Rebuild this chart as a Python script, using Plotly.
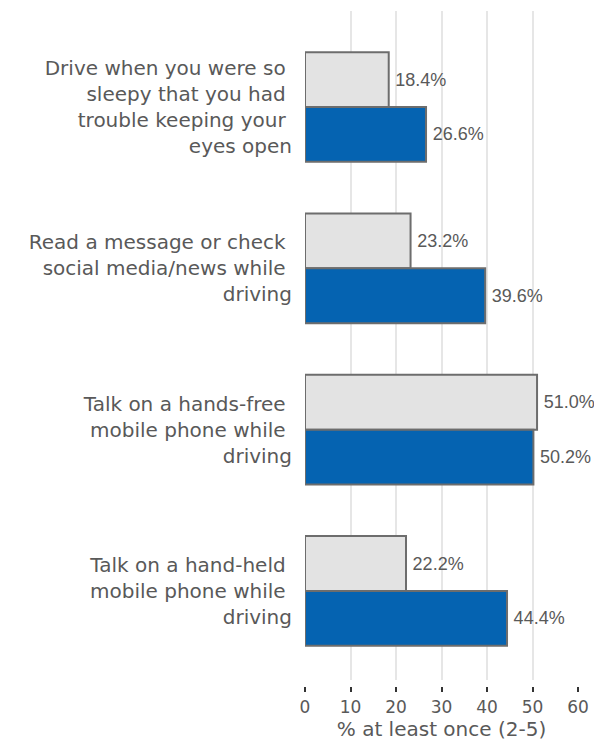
import plotly.graph_objects as go

categories = [
    "Drive when you were so\u00a0<br>sleepy that you had\u00a0<br>trouble keeping your\u00a0<br>eyes open",
    "Read a message or check\u00a0<br>social media/news while\u00a0<br>driving",
    "Talk on a hands-free\u00a0<br>mobile phone while\u00a0<br>driving",
    "Talk on a hand-held\u00a0<br>mobile phone while\u00a0<br>driving",
]
series_gray = [18.4, 23.2, 51.0, 22.2]
series_blue = [26.6, 39.6, 50.2, 44.4]
x_ticks = [0, 10, 20, 30, 40, 50, 60]

label_color = "#595959"
fig = go.Figure()
fig.add_trace(go.Bar(
    y=categories, x=series_gray, orientation="h",
    marker=dict(color="#E3E3E3", line=dict(color="#6D6D6D", width=2)),
    text=[f"\u2009{v:.1f}%" for v in series_gray], textposition="outside",
    textfont=dict(family="Liberation Sans, Arial", size=18, color=label_color),
    cliponaxis=False, showlegend=False,
))
fig.add_trace(go.Bar(
    y=categories, x=series_blue, orientation="h",
    marker=dict(color="#0563B1", line=dict(color="#6D6D6D", width=2)),
    text=[f"\u2009{v:.1f}%" for v in series_blue], textposition="outside",
    textfont=dict(family="Liberation Sans, Arial", size=18, color=label_color),
    cliponaxis=False, showlegend=False,
))

# page body has an 8px default margin, so the figure is 8px smaller
fig.update_layout(
    width=594, height=739,
    margin=dict(l=297, r=24, t=3, b=40),
    paper_bgcolor="white", plot_bgcolor="white",
    barmode="group", bargap=0.32, bargroupgap=0,
    font=dict(family="DejaVu Sans", color=label_color),
    xaxis=dict(
        range=[0, 60], tickvals=x_ticks, ticktext=[str(t) for t in x_ticks],
        showgrid=True, gridcolor="#E6E6E6", gridwidth=1.5,
        zeroline=False, showline=False,
        ticks="outside", ticklen=5, tickwidth=2, tickcolor="#333333",
        tickfont=dict(family="DejaVu Sans", size=17, color=label_color),
        anchor="free", position=0.03,
        title=dict(text="% at least once (2-5)", standoff=2,
                   font=dict(family="DejaVu Sans", size=20, color=label_color)),
    ),
    yaxis=dict(
        domain=[0.0388, 1],
        categoryorder="array", categoryarray=categories,
        range=[3.552, -0.595],
        showgrid=False, zeroline=False, showline=False, ticks="",
        ticklabelstandoff=12,
        tickfont=dict(family="DejaVu Sans", size=20, color=label_color),
    ),
)

fig.write_html("out.html")
